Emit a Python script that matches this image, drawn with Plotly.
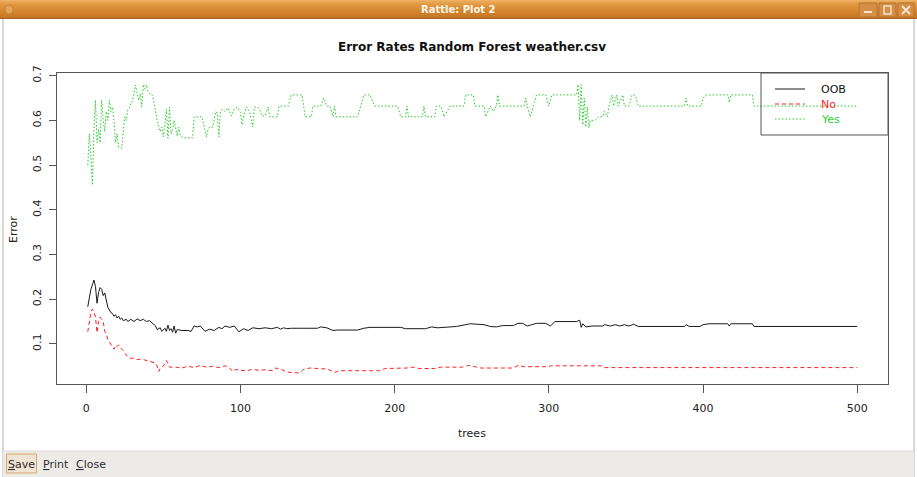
import plotly.graph_objects as go

W, H = 917, 477

# ---------------- data (vertices of each error-rate curve) ----------------
oob_trees = [1,2,3,4,5,6,7,8,9,10,11,12,13,14,15,16,17,18,19,20,21,22,23,24,26,27,29,31,33,35,37,39,41,43,45,46,48,49,51,52,53,54,55,56,57,58,59,62,66,68,70,72,74,77,80,83,86,88,90,93,96,99,102,105,108,112,116,120,124,126,128,130,133,140,150,152,156,160,163,176,180,184,204,207,220,224,228,240,246,249,258,262,266,270,277,280,283,286,289,292,298,301,304,318,320,321,322,324,328,335,336,340,343,346,349,352,355,358,388,389,391,398,400,404,416,417,418,432,433,500]
oob_err = [0.183,0.205,0.222,0.232,0.243,0.228,0.191,0.215,0.226,0.222,0.208,0.214,0.196,0.182,0.176,0.170,0.168,0.162,0.165,0.158,0.162,0.155,0.158,0.152,0.155,0.150,0.155,0.150,0.156,0.152,0.155,0.150,0.152,0.145,0.140,0.132,0.136,0.128,0.135,0.128,0.142,0.130,0.134,0.126,0.140,0.124,0.132,0.130,0.130,0.128,0.140,0.138,0.140,0.128,0.133,0.130,0.137,0.134,0.140,0.137,0.140,0.127,0.134,0.130,0.136,0.134,0.136,0.134,0.137,0.133,0.136,0.134,0.135,0.135,0.135,0.138,0.136,0.130,0.131,0.131,0.135,0.137,0.137,0.134,0.134,0.138,0.136,0.139,0.142,0.145,0.143,0.139,0.138,0.141,0.141,0.146,0.146,0.140,0.143,0.146,0.146,0.140,0.150,0.150,0.153,0.137,0.145,0.138,0.140,0.140,0.143,0.140,0.143,0.140,0.143,0.140,0.144,0.139,0.139,0.143,0.139,0.139,0.143,0.145,0.145,0.140,0.145,0.145,0.139,0.139]

no_trees = [1,2,3,4,5,6,7,8,9,10,11,12,13,14,15,16,17,18,19,20,21,22,24,26,28,30,32,36,40,43,45,46,47,48,50,52,54,58,62,66,70,74,78,82,86,90,93,95,97,100,104,108,112,116,121,123,126,130,135,138,141,145,150,156,159,161,164,190,194,208,212,216,226,230,244,248,252,256,277,280,284,300,301,334,336,500]
no_err = [0.127,0.150,0.170,0.178,0.172,0.160,0.125,0.150,0.160,0.155,0.150,0.128,0.122,0.110,0.104,0.100,0.095,0.088,0.097,0.094,0.098,0.092,0.085,0.075,0.068,0.068,0.065,0.066,0.062,0.058,0.057,0.050,0.038,0.046,0.050,0.063,0.048,0.048,0.046,0.050,0.047,0.052,0.048,0.050,0.047,0.051,0.046,0.038,0.043,0.041,0.040,0.043,0.041,0.042,0.040,0.046,0.044,0.037,0.036,0.035,0.043,0.046,0.045,0.044,0.040,0.036,0.040,0.040,0.045,0.046,0.048,0.045,0.045,0.048,0.048,0.052,0.049,0.046,0.046,0.052,0.049,0.049,0.051,0.051,0.047,0.047]

yes_trees = [1,2,3,4,5,6,7,8,9,10,11,12,13,14,15,16,17,18,19,20,21,22,23,24,25,26,27,28,29,30,31,32,33,34,35,36,37,38,39,40,41,42,43,44,45,46,47,48,49,50,51,52,53,54,55,56,57,58,59,60,61,62,63,69,70,75,76,77,78,79,80,82,83,84,85,86,87,88,90,92,94,96,98,100,101,102,104,106,108,109,110,112,114,116,118,119,124,125,131,133,140,142,146,147,152,154,156,158,160,161,162,176,178,180,184,187,202,204,207,208,209,218,219,220,226,227,230,232,236,245,246,251,252,258,259,262,264,266,267,268,284,285,286,288,290,292,298,300,302,318,319,320,321,322,323,324,325,326,327,330,332,335,336,338,339,341,342,344,345,348,349,352,354,356,358,388,389,390,399,400,402,416,417,418,432,433,500]
yes_err = [0.50,0.57,0.52,0.455,0.58,0.645,0.55,0.58,0.55,0.645,0.60,0.575,0.62,0.60,0.645,0.62,0.63,0.60,0.55,0.57,0.54,0.538,0.538,0.57,0.608,0.60,0.625,0.628,0.64,0.642,0.66,0.679,0.66,0.645,0.66,0.63,0.68,0.67,0.68,0.665,0.66,0.66,0.655,0.64,0.62,0.60,0.585,0.575,0.585,0.563,0.59,0.625,0.56,0.63,0.57,0.58,0.60,0.585,0.565,0.585,0.565,0.563,0.561,0.561,0.608,0.608,0.59,0.575,0.563,0.58,0.585,0.585,0.60,0.62,0.615,0.563,0.62,0.625,0.62,0.628,0.61,0.625,0.63,0.618,0.59,0.61,0.63,0.618,0.585,0.63,0.63,0.628,0.61,0.61,0.63,0.608,0.608,0.632,0.632,0.657,0.657,0.608,0.608,0.632,0.632,0.650,0.632,0.632,0.608,0.632,0.608,0.608,0.632,0.657,0.657,0.632,0.632,0.608,0.608,0.632,0.608,0.608,0.632,0.608,0.608,0.632,0.632,0.608,0.632,0.632,0.657,0.657,0.632,0.632,0.608,0.632,0.620,0.632,0.657,0.632,0.632,0.650,0.632,0.608,0.632,0.657,0.657,0.632,0.657,0.657,0.68,0.60,0.68,0.59,0.65,0.585,0.63,0.583,0.60,0.60,0.608,0.608,0.62,0.608,0.632,0.657,0.632,0.657,0.632,0.657,0.632,0.632,0.657,0.657,0.632,0.632,0.650,0.632,0.632,0.650,0.657,0.657,0.640,0.657,0.657,0.632,0.632]

x_ticks = [0, 100, 200, 300, 400, 500]
y_ticks = [0.1, 0.2, 0.3, 0.4, 0.5, 0.6, 0.7]
series_names = ["OOB", "No", "Yes"]
series_colors = ["#1a1a1a", "#ff2020", "#22cc22"]
text_colors = ["#111111", "#ff2a2a", "#33cc33"]
series_dash = ["solid", "4px,3px", "1.5px,2px"]

# ---------------- helpers (pixel -> paper) ----------------
def px(x):
    return x / W

def py(y):
    return 1 - y / H

FONT = "DejaVu Sans, Liberation Sans, sans-serif"

fig = go.Figure()
for tr, er, name, col, dash in zip([oob_trees, no_trees, yes_trees],
                                   [oob_err, no_err, yes_err],
                                   series_names, series_colors, series_dash):
    fig.add_trace(go.Scatter(x=tr, y=er, mode="lines", name=name, showlegend=False,
                             line=dict(color=col, width=1, dash=dash)))

plot_l, plot_r, plot_t, plot_b = 57, 888, 73, 384

fig.update_layout(
    width=W, height=H, autosize=False,
    margin=dict(l=0, r=0, t=0, b=0, pad=0),
    paper_bgcolor="white", plot_bgcolor="white",
    showlegend=False,
    xaxis=dict(domain=[px(plot_l), px(plot_r)], range=[-18.96, 519.96],
               tickvals=x_ticks, ticktext=[str(v) for v in x_ticks],
               showgrid=False, zeroline=False, showline=True, mirror=True,
               linecolor="#555555", linewidth=1, ticks="outside", ticklen=8,
               tickcolor="#555555", tickfont=dict(family=FONT, size=11, color="#222222"),
               ticklabelstandoff=6, automargin=False, fixedrange=True),
    yaxis=dict(domain=[py(plot_b), py(plot_t)], range=[0.0103, 0.706],
               tickvals=y_ticks, ticktext=[f"{v:.1f}" for v in y_ticks],
               showgrid=False, zeroline=False, showline=True, mirror=True,
               linecolor="#555555", linewidth=1, ticks="outside", ticklen=7,
               tickcolor="#555555", tickangle=-90,
               tickfont=dict(family=FONT, size=11, color="#222222"),
               ticklabelstandoff=4, automargin=False, fixedrange=True),
)

shapes = []
annotations = []

# ---- window title bar (gradient made of strips) ----
bar_cols = ["#eeb062", "#eaa956", "#e7a34e", "#e49e48", "#e19a43", "#df963f", "#dd933b",
            "#db9038", "#d98d35", "#d78a33", "#d58731", "#d3852f", "#d1822d", "#cf802b",
            "#cd7d29", "#cb7b28", "#c87826", "#c37424", "#a9651f"]
for i, c in enumerate(bar_cols):
    shapes.append(dict(type="rect", xref="paper", yref="paper", x0=0, x1=1,
                       y0=py(i + 1), y1=py(i), fillcolor=c, line=dict(width=0), layer="above"))
annotations.append(dict(text="<b>Rattle: Plot 2</b>", x=px(458), y=py(9.5), xref="paper", yref="paper",
                        showarrow=False, font=dict(family=FONT, size=10, color="#fff6e8"),
                        xanchor="center", yanchor="middle"))
# small circle at left of title bar
shapes.append(dict(type="circle", xref="paper", yref="paper", x0=px(5), x1=px(13), y0=py(14), y1=py(5),
                   fillcolor="#e2a45a", line=dict(color="#c98433", width=1)))
# window buttons
for (x0, x1) in [(859, 877), (879, 896), (898, 914)]:
    shapes.append(dict(type="rect", xref="paper", yref="paper", x0=px(x0), x1=px(x1), y0=py(17), y1=py(3),
                       fillcolor="#d48f45", line=dict(color="#b8742c", width=1)))
shapes.append(dict(type="rect", xref="paper", yref="paper", x0=px(864), x1=px(872), y0=py(13), y1=py(11),
                   fillcolor="#f4e4d0", line=dict(width=0)))
shapes.append(dict(type="rect", xref="paper", yref="paper", x0=px(884), x1=px(891), y0=py(14), y1=py(6),
                   fillcolor="rgba(0,0,0,0)", line=dict(color="#f4e4d0", width=1.5)))
shapes.append(dict(type="line", xref="paper", yref="paper", x0=px(902), x1=px(910), y0=py(14), y1=py(6),
                   line=dict(color="#f4e4d0", width=2)))
shapes.append(dict(type="line", xref="paper", yref="paper", x0=px(902), x1=px(910), y0=py(6), y1=py(14),
                   line=dict(color="#f4e4d0", width=2)))

# ---- window side borders ----
shapes.append(dict(type="line", xref="paper", yref="paper", x0=px(3), x1=px(3), y0=py(19), y1=py(477),
                   line=dict(color="#b5b3b0", width=1)))
shapes.append(dict(type="line", xref="paper", yref="paper", x0=px(914), x1=px(914), y0=py(19), y1=py(477),
                   line=dict(color="#b5b3b0", width=1)))

# ---- bottom button bar ----
shapes.append(dict(type="rect", xref="paper", yref="paper", x0=px(3), x1=px(914), y0=py(477), y1=py(451),
                   fillcolor="#edebe8", line=dict(width=0)))
shapes.append(dict(type="line", xref="paper", yref="paper", x0=px(3), x1=px(914), y0=py(451), y1=py(451),
                   line=dict(color="#dcd9d5", width=1)))
shapes.append(dict(type="rect", xref="paper", yref="paper", x0=px(6.5), x1=px(36.5), y0=py(473), y1=py(454),
                   fillcolor="#efe3d3", line=dict(color="#d9a86b", width=1)))
u = "<span style='text-decoration:underline'>{}</span>{}"
for label, cx in [(u.format("S", "ave"), 21.5), (u.format("P", "rint"), 55.5), (u.format("C", "lose"), 90.5)]:
    annotations.append(dict(text=label, x=px(cx), y=py(464), xref="paper", yref="paper", showarrow=False,
                            font=dict(family=FONT, size=11, color="#2e2e2e"),
                            xanchor="center", yanchor="middle"))

# ---- chart title and axis titles ----
annotations.append(dict(text="<b>Error Rates Random Forest weather.csv</b>", x=px(472), y=py(47),
                        xref="paper", yref="paper", showarrow=False,
                        font=dict(family=FONT, size=12, color="#111111"),
                        xanchor="center", yanchor="middle"))
annotations.append(dict(text="trees", x=px(472), y=py(433), xref="paper", yref="paper", showarrow=False,
                        font=dict(family=FONT, size=11, color="#222222"), xanchor="center", yanchor="middle"))
annotations.append(dict(text="Error", x=px(14), y=py(230), xref="paper", yref="paper", showarrow=False,
                        textangle=-90, font=dict(family=FONT, size=11, color="#222222"),
                        xanchor="center", yanchor="middle"))

# ---- legend (box, key lines, labels) ----
shapes.append(dict(type="rect", xref="paper", yref="paper", x0=px(761), x1=px(888), y0=py(135), y1=py(73),
                   fillcolor="rgba(0,0,0,0)", line=dict(color="#555555", width=1), layer="above"))
for i, (name, col, tcol, dash) in enumerate(zip(series_names, series_colors, text_colors, series_dash)):
    yy = 89 + 15 * i
    shapes.append(dict(type="line", xref="paper", yref="paper", x0=px(775), x1=px(805), y0=py(yy), y1=py(yy),
                       line=dict(color=col, width=1, dash=dash), layer="above"))
    annotations.append(dict(text=name, x=px(819), y=py(yy), xref="paper", yref="paper", showarrow=False,
                            font=dict(family=FONT, size=11, color=tcol), xanchor="left", yanchor="middle"))

fig.update_layout(shapes=shapes, annotations=annotations)
fig.write_html("out.html", config={"displayModeBar": False},
               post_script="document.body.style.margin='0px';document.body.style.overflow='hidden';")
